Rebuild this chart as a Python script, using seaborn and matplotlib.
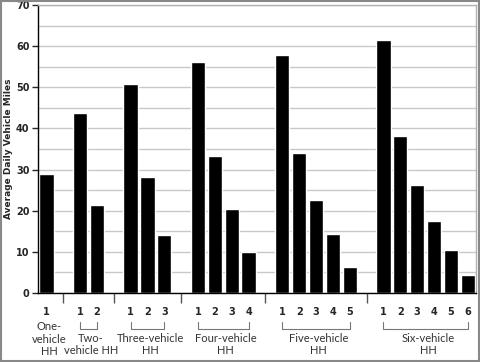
import pandas as pd
import matplotlib.pyplot as plt
import seaborn as sns
from matplotlib.patches import Rectangle

# --------------------------------------------------
# Data
# --------------------------------------------------

group_names = [
    "One-\nvehicle\nHH",
    "Two-\nvehicle HH",
    "Three-vehicle\nHH",
    "Four-vehicle\nHH",
    "Five-vehicle\nHH",
    "Six-vehicle\nHH",
]

miles_one = [29.0]
miles_two = [43.7, 21.3]
miles_three = [50.8, 28.1, 14.0]
miles_four = [56.2, 33.3, 20.3, 10.0]
miles_five = [57.8, 34.0, 22.6, 14.2, 6.3]
miles_six = [61.4, 38.1, 26.3, 17.5, 10.4, 4.4]

groups = [miles_one, miles_two, miles_three, miles_four, miles_five, miles_six]

# --------------------------------------------------
# Build slot table (one empty slot between groups)
# --------------------------------------------------

rows = []
order = []
sep_slots = []
group_slots = []
slot = 0

for g, values in enumerate(groups):
    first = slot
    for i, v in enumerate(values):
        key = f"g{g}_{i + 1}"
        order.append(key)
        rows.append({"slot": key, "miles": v, "label": str(i + 1)})
        slot += 1
    group_slots.append((first, slot - 1))
    if g < len(groups) - 1:
        order.append(f"sep{g}")
        sep_slots.append(slot)
        slot += 1

df = pd.DataFrame(rows)

# --------------------------------------------------
# Plot
# --------------------------------------------------

sns.set_style("white")
plt.rcParams["font.family"] = ["DejaVu Sans"]

fig = plt.figure(figsize=(4.8, 3.62), dpi=100)
ax = fig.add_axes([0.079, 0.191, 0.913, 0.795])

ax.yaxis.grid(True, which="both", color="#c8c8c8", linewidth=1)
ax.set_axisbelow(True)

sns.barplot(
    data=df,
    x="slot",
    y="miles",
    order=order,
    color="black",
    saturation=1,
    width=0.85,
    ax=ax
)

ax.set_ylim(0, 70)
ax.set_yticks(range(0, 71, 10))
ax.set_yticks(range(5, 70, 10), minor=True)
ax.tick_params(axis="y", which="major", direction="out", length=4,
               width=1, labelsize=7, pad=2, left=True)
ax.tick_params(axis="y", which="minor", length=0)
for t in ax.get_yticklabels():
    t.set_fontweight("bold")

ax.set_xlim(-0.5, len(order) - 0.5)

# separator tick marks (major) and bar numbers (minor)
bar_positions = [order.index(r["slot"]) for r in rows]
ax.set_xticks(sep_slots)
ax.set_xticklabels([""] * len(sep_slots))
ax.set_xticks(bar_positions, minor=True)
ax.set_xticklabels([r["label"] for r in rows], minor=True,
                   fontweight="bold", fontsize=7)
ax.tick_params(axis="x", which="major", direction="out", length=7,
               width=1, color="#555555", bottom=True)
ax.tick_params(axis="x", which="minor", length=0, pad=10)

ax.set_xlabel("")
ax.set_ylabel("Average Daily Vehicle Miles", fontsize=6.5,
              fontweight="bold", labelpad=2)

for side in ["top", "right"]:
    ax.spines[side].set_color("#b0b0b0")
    ax.spines[side].set_linewidth(1)
for side in ["left", "bottom"]:
    ax.spines[side].set_color("black")
    ax.spines[side].set_linewidth(1)

# group brackets and names
trans = ax.get_xaxis_transform()
for name, (a, b) in zip(group_names, group_slots):
    mid = (a + b) / 2 + 0.15
    if b > a:
        ax.plot([a, a, b, b], [-0.1, -0.124, -0.124, -0.1],
                transform=trans, color="#777777", linewidth=0.8,
                clip_on=False)
        y_text = -0.138
    else:
        y_text = -0.097
    ax.text(mid, y_text, name, transform=trans, ha="center", va="top",
            fontsize=8, family=["Lato", "DejaVu Sans"], color="#333333",
            linespacing=1.2)

fig.patches.append(
    Rectangle((0.002, 0.003), 0.996, 0.994, transform=fig.transFigure,
              fill=False, edgecolor="#888888", linewidth=1.5)
)

plt.savefig("out.png", dpi=100)
plt.close()
